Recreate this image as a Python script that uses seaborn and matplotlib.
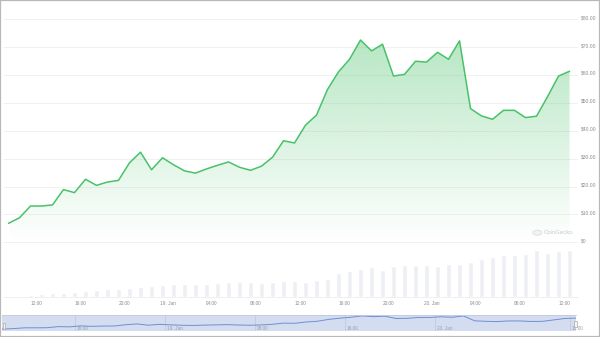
import numpy as np
import pandas as pd
import matplotlib
matplotlib.use("Agg")
import matplotlib.pyplot as plt
import matplotlib.transforms as mtransforms
from matplotlib.patches import Polygon, Rectangle, Circle
import seaborn as sns

# ---------------- data ----------------
start_hour = 9.5  # hours after 18 Jan 00:00
price = [6.8, 8.8, 13.0, 13.0, 13.4, 18.9, 17.8, 22.6, 20.4, 21.6,
         22.2, 28.5, 32.3, 26.0, 30.3, 27.8, 25.6, 24.8, 26.3, 27.6,
         28.8, 26.9, 25.8, 27.3, 30.5, 36.4, 35.6, 42.0, 45.6, 54.8,
         61.1, 65.6, 72.5, 68.6, 71.0, 59.6, 60.2, 64.9, 64.6, 68.1,
         65.6, 72.2, 47.9, 45.3, 44.1, 47.3, 47.3, 44.7, 45.2, 52.2,
         59.6, 61.3]
volume = [1.3, 1.7, 2.3, 3.3, 4.0, 4.7, 5.3, 6.3, 7.3, 8.0,
          8.0, 9.3, 10.0, 11.7, 12.0, 13.0, 13.0, 13.7, 13.7, 14.0,
          15.3, 15.3, 15.3, 14.7, 15.7, 16.7, 16.7, 15.7, 17.3, 18.7,
          24.3, 26.7, 28.7, 30.0, 27.3, 31.3, 32.3, 32.3, 32.3, 31.3,
          33.0, 33.3, 35.7, 38.3, 40.3, 42.0, 42.7, 43.3, 47.3, 44.0,
          46.0, 47.3]
hours = start_hour + np.arange(len(price))

price_ticks = [0, 10, 20, 30, 40, 50, 60, 70, 80]
price_labels = ["$0", "$10.00", "$20.00", "$30.00", "$40.00", "$50.00",
                "$60.00", "$70.00", "$80.00"]
x_ticks = [12, 16, 20, 24, 28, 32, 36, 40, 44, 48, 52, 56, 60]
x_labels = ["12:00", "16:00", "20:00", "19. Jan", "04:00", "08:00", "12:00",
            "16:00", "20:00", "20. Jan", "04:00", "08:00", "12:00"]
nav_ticks = [16, 24, 32, 40, 48, 60]
nav_labels = ["16:00", "19. Jan", "08:00", "16:00", "20. Jan", "12:00"]

df = pd.DataFrame({"hour": hours, "price": price, "volume": volume})

# ---------------- style ----------------
sns.set_theme(style="white")
plt.rcParams["font.family"] = ["Liberation Sans", "DejaVu Sans"]

W, H = 600, 337
fig = plt.figure(figsize=(W / 100, H / 100), dpi=100)
fig.patch.set_facecolor("white")


def px_axes(x0, y0, x1, y1):
    return fig.add_axes([x0 / W, 1 - y1 / H, (x1 - x0) / W, (y1 - y0) / H])


GREEN = "#48c26a"
LABEL = "#8c8c8c"
XLIM = (9.0, 61.27)

# ---------------- price axes ----------------
ax = px_axes(3, 8, 578, 244)
ppx = 2.79  # px per dollar
ylim = (-(244 - 242.3) / ppx, (242.3 - 8) / ppx)
for s in ax.spines.values():
    s.set_visible(False)
ax.set_facecolor("none")

# gradient fill under line
verts = [(hours[0], 0)] + list(zip(hours, price)) + [(hours[-1], 0)]
poly = Polygon(verts, closed=True, facecolor="none", edgecolor="none")
ax.add_patch(poly)
n = 256
grad = np.zeros((n, 1, 4))
rgb = matplotlib.colors.to_rgb("#4bc36b")
grad[..., 0], grad[..., 1], grad[..., 2] = rgb
grad[:, 0, 3] = np.linspace(0.0, 0.40, n)
im = ax.imshow(grad, extent=[hours[0], hours[-1], 0, max(price)],
               origin="lower", aspect="auto", zorder=1, interpolation="bilinear")
im.set_clip_path(poly)

sns.lineplot(data=df, x="hour", y="price", ax=ax, color=GREEN, lw=1.1, zorder=3)

ax.set_xlim(*XLIM)
ax.set_ylim(*ylim)
ax.set_xticks([])
ax.set_xlabel("")
ax.set_ylabel("")
ax.yaxis.tick_right()
ax.set_yticks(price_ticks)
ax.set_yticklabels(price_labels)
ax.tick_params(axis="y", length=0, pad=2.2, labelsize=3.6, labelcolor=LABEL)
offset = mtransforms.ScaledTranslation(0, 2 / 100, fig.dpi_scale_trans)
for lab in ax.get_yticklabels():
    lab.set_transform(lab.get_transform() + offset)
ax.yaxis.grid(True, color="#ededed", lw=0.55)
ax.set_axisbelow(True)

# watermark
fig.add_artist(Circle((537.3 / W, 1 - 232.7 / H), 4.5 / W, transform=fig.transFigure,
                      facecolor="#f2f2f2", edgecolor="#dddddd", lw=0.6))
fig.text(544 / W, 1 - 233 / H, "CoinGecko", color="#c9c9c9", fontsize=4.3,
         ha="left", va="center")

# ---------------- volume axes ----------------
axv = px_axes(3, 240, 578, 297.3)
sns.barplot(data=df, x="hour", y="volume", native_scale=True, color="#edeff4",
            saturation=1, width=0.5, ax=axv, errorbar=None)
axv.set_xlim(*XLIM)
axv.set_ylim(0, 57.3)
axv.set_yticks([])
axv.set_xlabel("")
axv.set_ylabel("")
for k, s in axv.spines.items():
    s.set_visible(k == "bottom")
axv.spines["bottom"].set_color("#eeeeee")
axv.spines["bottom"].set_linewidth(0.6)
axv.set_xticks(x_ticks)
axv.set_xticklabels(x_labels)
axv.tick_params(axis="x", length=0, pad=2.4, labelsize=3.4, labelcolor=LABEL)
axv.set_facecolor("none")

# ---------------- navigator ----------------
axn = px_axes(2, 315, 576, 331)
axn.set_facecolor("#d4dcef")
sns.lineplot(data=df, x="hour", y="price", ax=axn, color="#6f8fd4", lw=0.7)
axn.set_xlim(hours[0], hours[-1])
axn.set_ylim(-3, 77)
axn.set_xticks([])
axn.set_yticks([])
axn.set_xlabel("")
axn.set_ylabel("")
for k, s in axn.spines.items():
    s.set_visible(k == "top")
axn.spines["top"].set_color("#c3cade")
axn.spines["top"].set_linewidth(0.6)
trans = mtransforms.blended_transform_factory(axn.transData, axn.transAxes)
toff = mtransforms.ScaledTranslation(1.5 / 100, 0, fig.dpi_scale_trans)
for t, lab in zip(nav_ticks, nav_labels):
    axn.axvline(t, color="#c2c9dd", lw=0.6, zorder=0)
    axn.text(t, 0.14, lab, transform=trans + toff, fontsize=3.4, color="#9aa0ae",
             ha="left", va="center")

# navigator handles
for (hx, hy) in [(2.7, 322.5), (574.0, 320.5)]:
    fig.add_artist(Rectangle((hx / W, 1 - (hy + 6) / H), 2.6 / W, 6 / H,
                             transform=fig.transFigure, facecolor="#f4f4f4",
                             edgecolor="#999999", lw=0.4))

# outer border
fig.add_artist(Rectangle((0, 0), 1, 1, transform=fig.transFigure, fill=False,
                         edgecolor="#b8b8b8", lw=1.6))

fig.savefig("out.png", dpi=100, facecolor="white")
